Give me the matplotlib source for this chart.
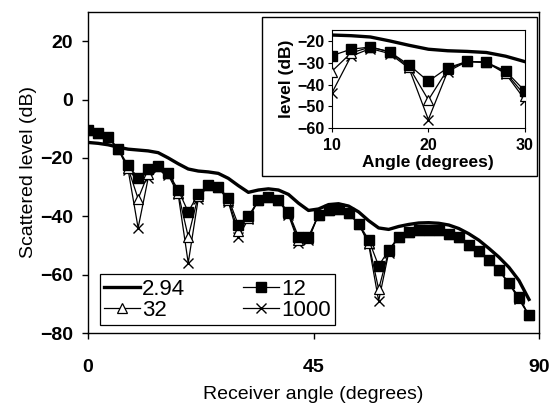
import matplotlib
matplotlib.use("Agg")
import matplotlib.pyplot as plt
from matplotlib.patches import Rectangle

plt.rcParams['font.family'] = ['Liberation Sans', 'DejaVu Sans']

angles = [0, 2, 4, 6, 8, 10, 12, 14, 16, 18, 20, 22, 24, 26, 28, 30, 32, 34, 36, 38,
          40, 42, 44, 46, 48, 50, 52, 54, 56, 58, 60, 62, 64, 66, 68, 70, 72, 74, 76, 78,
          80, 82, 84, 86, 88]

s294 = [-14.7, -15.0, -15.5, -16.3, -17.0, -17.3, -17.6, -18.2, -20.0, -22.0,
        -23.8, -24.5, -24.8, -25.3, -27.0, -29.5, -31.8, -31.0, -30.6, -31.0,
        -32.5, -35.5, -38.0, -37.5, -36.0, -35.7, -36.5, -38.5, -41.5, -44.0,
        -44.5, -43.5, -42.8, -42.3, -42.2, -42.4, -43.0, -44.2, -46.0, -48.2,
        -51.0, -54.0, -57.5, -62.0, -68.5]

s12 = [-10.6, -11.3, -13.0, -16.8, -22.6, -26.8, -23.8, -22.8, -25.0, -31.0,
       -38.5, -32.3, -29.4, -29.8, -33.8, -43.0, -40.0, -34.5, -33.5, -34.5,
       -38.5, -47.0, -47.0, -39.5, -38.0, -37.5, -39.0, -42.5, -48.0, -57.0,
       -51.6, -47.0, -45.4, -44.8, -44.6, -44.8, -46.0, -47.2, -50.0, -52.0,
       -55.0, -58.5, -63.0, -67.6, -74.0]

s32 = [-10.6, -11.3, -13.0, -16.8, -23.5, -34.0, -25.5, -22.8, -25.0, -32.0,
       -47.0, -33.0, -29.4, -29.8, -34.5, -45.0, -40.5, -34.5, -33.5, -34.5,
       -39.0, -48.0, -47.5, -39.5, -38.0, -37.5, -39.0, -42.5, -49.0, -65.0,
       -52.0, -47.0, -45.4, -44.8, -44.6, -44.8, -46.0, -47.2, -50.0, -52.0,
       -55.0, -58.5, -63.0, -68.0, -74.0]

s1000 = [-10.6, -11.3, -13.0, -16.8, -24.0, -44.0, -27.0, -23.5, -25.8, -32.5,
         -56.0, -34.0, -29.4, -29.8, -35.0, -47.0, -41.0, -34.5, -33.5, -34.5,
         -39.5, -49.0, -48.0, -39.5, -38.0, -37.5, -39.0, -42.5, -49.5, -69.0,
         -52.5, -47.0, -45.4, -44.8, -44.6, -44.8, -46.0, -47.2, -50.0, -52.0,
         -55.0, -58.5, -63.0, -68.5, -74.0]

labels = ['2.94', '12', '32', '1000']
main_xticks = [0, 45, 90]
main_yticks = [-80, -60, -40, -20, 0, 20]
inset_xticks = [10, 20, 30]
inset_yticks = [-60, -50, -40, -30, -20]

W, H = 552, 409
fig = plt.figure(figsize=(W / 100, H / 100), dpi=100)


def px_rect(x0, y0, x1, y1):
    return [x0 / W, 1 - y1 / H, (x1 - x0) / W, (y1 - y0) / H]


def draw_series(ax, ms_sq, ms_tri, ms_x, lw_thick):
    h1, = ax.plot(angles, s294, color='black', lw=lw_thick, label=labels[0], zorder=5)
    h2, = ax.plot(angles, s12, color='black', lw=0.9, marker='s', ms=ms_sq,
                  mfc='black', mec='black', label=labels[1], zorder=4)
    h3, = ax.plot(angles, s32, color='black', lw=0.9, marker='^', ms=ms_tri,
                  mfc='white', mec='black', mew=0.9, label=labels[2], zorder=3)
    h4, = ax.plot(angles, s1000, color='black', lw=0.9, marker='x', ms=ms_x,
                  mec='black', mew=1.0, label=labels[3], zorder=2)
    return [h1, h2, h3, h4]


ax = fig.add_axes(px_rect(88, 12, 539, 333))
handles = draw_series(ax, 6.5, 6.5, 7.5, 2.4)
ax.set_xlim(0, 90)
ax.set_ylim(-80, 30)
ax.set_xticks(main_xticks)
ax.set_yticks(main_yticks)
ax.tick_params(axis='both', direction='out', length=4, width=1, labelsize=14)
ax.tick_params(axis='x', pad=15)
ax.tick_params(axis='y', pad=7)
for lab in ax.get_xticklabels() + ax.get_yticklabels():
    lab.set_fontweight('bold')
for sp in ax.spines.values():
    sp.set_linewidth(1.0)
ax.set_xlabel('Receiver angle (degrees)', fontsize=14)
ax.set_ylabel('Scattered level (dB)', fontsize=14)
ax.xaxis.set_label_coords(0.5, -(386 - 333) / 321)
ax.yaxis.set_label_coords(-(88 - 37) / 451, 0.5)

leg = ax.legend(handles=[handles[0], handles[2], handles[1], handles[3]],
                labels=[labels[0], labels[2], labels[1], labels[3]],
                ncol=2, loc='lower left',
                bbox_to_anchor=((100 - 88) / 451, (333 - 325) / 321),
                borderaxespad=0, fontsize=16, frameon=True, fancybox=False,
                edgecolor='black', framealpha=1, handlelength=1.6,
                handletextpad=0.1, labelspacing=0.0, columnspacing=2.6,
                borderpad=0.2)
leg.get_frame().set_linewidth(0.9)

# inset outer frame
frame = Rectangle((262 / W, 1 - 176 / H), 275 / W, 159 / H, transform=fig.transFigure,
                  facecolor='white', edgecolor='black', lw=1.0, zorder=2.5)
fig.add_artist(frame)

axi = fig.add_axes(px_rect(331.7, 30, 525, 128.3))
axi.set_zorder(3)
draw_series(axi, 6.5, 6.5, 7.5, 2.4)
axi.set_xlim(10, 30)
axi.set_ylim(-60, -15)
axi.set_xticks(inset_xticks)
axi.set_yticks(inset_yticks)
axi.tick_params(axis='both', direction='out', length=3, width=0.8, labelsize=11.5)
axi.tick_params(axis='x', pad=4)
axi.tick_params(axis='y', pad=2)
for lab in axi.get_xticklabels() + axi.get_yticklabels():
    lab.set_fontweight('bold')
for sp in axi.spines.values():
    sp.set_linewidth(0.8)
axi.set_xlabel('Angle (degrees)', fontsize=12.5, fontweight='bold')
axi.set_ylabel('level (dB)', fontsize=12.5, fontweight='bold')
axi.xaxis.set_label_coords(0.5, -(155 - 128.3) / 98.3)
axi.yaxis.set_label_coords(-(331.7 - 294) / 193.3, 0.5)

fig.savefig('out.png', dpi=100)
